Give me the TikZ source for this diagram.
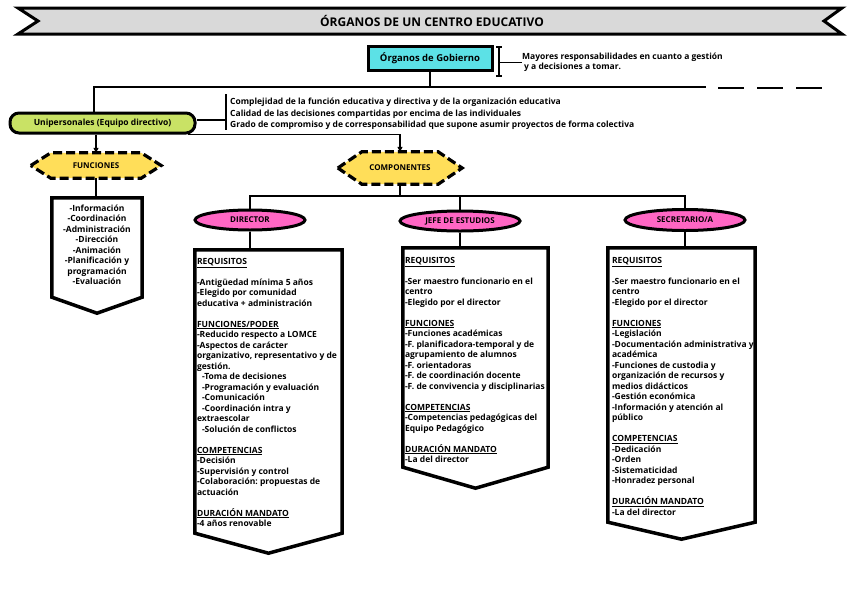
\documentclass[tikz,border=0pt]{standalone}
\usepackage{fontspec}
\setmainfont{Open Sans}
\usetikzlibrary{arrows.meta,calc,shapes.geometric,backgrounds}
\definecolor{bannergray}{HTML}{D9D9D9}
\definecolor{govcyan}{HTML}{5CE1E6}
\definecolor{unilime}{HTML}{C9E265}
\definecolor{hexyellow}{HTML}{FFDE59}
\definecolor{ellpink}{HTML}{FF66C4}
\frenchspacing
\begin{document}
\begin{tikzpicture}[x=1pt,y=-1pt,
  conn/.style={line width=1.4pt},
  arr/.style={line width=1.4pt,-{Triangle[length=5pt,width=5pt]}},
  txt/.style={font=\bfseries\fontsize{8.5}{10.5}\selectfont, inner sep=0pt, align=left},
  txtc/.style={font=\bfseries\fontsize{8.5}{10.5}\selectfont, inner sep=0pt, align=center},
  hexnode/.style={minimum width=#1, inner sep=0pt, font=\bfseries\fontsize{8}{9}\selectfont},
  hexshape/.style={fill=hexyellow, draw=black, line width=3.2pt, dash pattern=on 9pt off 4pt, line join=miter},
  ellnode/.style={ellipse, draw, line width=3pt, fill=ellpink, inner sep=0pt, font=\bfseries\fontsize{8}{9}\selectfont},
  boxnode/.style={inner sep=0pt},
  boxshape/.style={fill=white, draw=black, line width=3.5pt, line join=miter}
]
\useasboundingbox (0,0) rectangle (848,600);

% title banner
\draw[line width=3pt, fill=bannergray, line join=miter] (18,8) -- (842,8) -- (824,21) -- (842,34) -- (18,34) -- (38,21) -- cycle;
\node[font=\bfseries\fontsize{12}{14}\selectfont, inner sep=0pt] (title) at (432,21) {ÓRGANOS DE UN CENTRO EDUCATIVO};

% organos de gobierno
\node[draw, line width=3pt, fill=govcyan, minimum width=124pt, minimum height=24pt, inner sep=0pt,
      font=\bfseries\fontsize{9.5}{11}\selectfont] (gob) at (430,58) {Órganos de Gobierno};
\coordinate (gbT) at (499,47);
\coordinate (gbB) at (499,76);
\draw[conn] (gbT) -- (gbB);
\draw[conn] ($(gbT)+(-3,0)$) -- ($(gbT)+(3,0)$);
\draw[conn] ($(gbB)+(-3,0)$) -- ($(gbB)+(3,0)$);
\node[txt, anchor=west] (gobnote) at (522,62.5) {Mayores responsabilidades en cuanto a gestión\\\hspace*{2pt}y a decisiones a tomar.};
\draw[conn] (gbT |- gobnote.west) -- (gobnote.west);

% unipersonales
\node[draw, line width=3pt, fill=unilime, rounded corners=9pt, minimum width=185pt, minimum height=20pt, inner sep=0pt,
      font=\bfseries\fontsize{8.5}{10}\selectfont] (uni) at (102.5,123) {Unipersonales (Equipo directivo)};

% top horizontal line
\coordinate (hl) at (94,87);
\coordinate (hr) at (706,87);
\draw[conn] (gob.south) -- (gob.south |- hl);
\draw[conn] (hl |- uni.north) -- (hl) -- (hr);
\coordinate (d1) at (718,88);
\coordinate (d2) at (823,88);
\draw[line width=2pt, dash pattern=on 26pt off 13pt] (d1) -- (d2);

% bracket for unipersonales
\coordinate (ubT) at (226,94);
\coordinate (ubB) at (226,130);
\draw[conn] (ubT) -- (ubB);
\draw[conn] ($(uni.east)+(0,-3)$) coordinate (ue) -- (ue -| ubT);
\node[txt, anchor=north west, font=\bfseries\fontsize{8.5}{11.3}\selectfont] (unote) at (230,98)
  {Complejidad de la función educativa y directiva y de la organización educativa\\
   Calidad de las decisiones compartidas por encima de las individuales\\
   Grado de compromiso y de corresponsabilidad que supone asumir proyectos de forma colectiva};

% hexagons
\node[hexnode=130pt, minimum height=25pt] (fun) at (96,165.5) {FUNCIONES};
\node[hexnode=124pt, minimum height=32pt] (comp) at (400,168) {COMPONENTES};
\draw[arr] (uni.south -| fun.north) -- (fun.north);
\draw[arr] ($(uni.south east)+(-9,0)$) -- (comp.north |- uni.south) -- (comp.north);

% funciones box
\node[boxnode, minimum width=90pt, minimum height=99pt] (funbox) at (97,247.5) {};
\node[txtc, anchor=north] (funtxt) at ($(funbox.north)+(0,6.5)$)
  {-Información\\-Coordinación\\-Administración\\-Dirección\\-Animación\\-Planificación y\\programación\\-Evaluación};
\draw[conn] (fun.south) -- (fun.south |- funbox.north);

% ellipses
\node[ellnode, minimum width=110pt, minimum height=20pt] (dir) at (250,220) {DIRECTOR};
\node[ellnode, minimum width=120pt, minimum height=20pt] (jefe) at (460,221) {JEFE DE ESTUDIOS};
\node[ellnode, minimum width=120pt, minimum height=21pt] (sec) at (685,220) {SECRETARIO/A};

\coordinate (cl) at (251,196);
\draw[conn] (comp.south) -- (comp.south |- cl);
\draw[conn] (dir.north) -- (dir.north |- cl) -- (sec.north |- cl) -- (sec.north);
\draw[conn] (jefe.north |- cl) -- (jefe.north);

% column boxes
\node[boxnode, minimum width=147pt, minimum height=283pt] (dirbox) at (268.5,391.5) {};
\node[boxnode, minimum width=145pt, minimum height=219pt] (jefebox) at (475.5,357.5) {};
\node[boxnode, minimum width=147pt, minimum height=274pt] (secbox) at (681.5,385) {};
\draw[conn] (dir.south) -- (dir.south |- dirbox.north);
\draw[conn] (jefe.south) -- (jefe.south |- jefebox.north);
\draw[conn] (sec.south) -- (sec.south |- secbox.north);

\node[txt, anchor=north west] (dirtxt) at ($(dirbox.north west)+(2,8)$)
  {\underline{REQUISITOS}\\[10.5pt]
   -Antigüedad mínima 5 años\\
   -Elegido por comunidad\\
   educativa + administración\\[10.5pt]
   \underline{FUNCIONES/PODER}\\
   -Reducido respecto a LOMCE\\
   -Aspectos de carácter\\
   organizativo, representativo y de\\
   gestión.\\
   \hspace*{5pt}-Toma de decisiones\\
   \hspace*{5pt}-Programación y evaluación\\
   \hspace*{5pt}-Comunicación\\
   \hspace*{5pt}-Coordinación intra y\\
   extraescolar\\
   \hspace*{5pt}-Solución de conflictos\\[10.5pt]
   \underline{COMPETENCIAS}\\
   -Decisión\\
   -Supervisión y control\\
   -Colaboración: propuestas de\\
   actuación\\[10.5pt]
   \underline{DURACIÓN MANDATO}\\
   -4 años renovable};

\node[txt, anchor=north west] (jefetxt) at ($(jefebox.north west)+(2,9)$)
  {\underline{REQUISITOS}\\[10.5pt]
   -Ser maestro funcionario en el\\
   centro\\
   -Elegido por el director\\[10.5pt]
   \underline{FUNCIONES}\\
   -Funciones académicas\\
   -F. planificadora-temporal y de\\
   agrupamiento de alumnos\\
   -F. orientadoras\\
   -F. de coordinación docente\\
   -F. de convivencia y disciplinarias\\[10.5pt]
   \underline{COMPETENCIAS}\\
   -Competencias pedagógicas del\\
   Equipo Pedagógico\\[10.5pt]
   \underline{DURACIÓN MANDATO}\\
   -La del director};

\node[txt, anchor=north west] (sectxt) at ($(secbox.north west)+(4,9)$)
  {\underline{REQUISITOS}\\[10.5pt]
   -Ser maestro funcionario en el\\
   centro\\
   -Elegido por el director\\[10.5pt]
   \underline{FUNCIONES}\\
   -Legislación\\
   -Documentación administrativa y\\
   académica\\
   -Funciones de custodia y\\
   organización de recursos y\\
   medios didácticos\\
   -Gestión económica\\
   -Información y atención al\\
   público\\[10.5pt]
   \underline{COMPETENCIAS}\\
   -Dedicación\\
   -Orden\\
   -Sistematicidad\\
   -Honradez personal\\[10.5pt]
   \underline{DURACIÓN MANDATO}\\
   -La del director};

% background shapes
\begin{scope}[on background layer]
  \fill[white] (0,0) rectangle (848,600);
  \path[hexshape] (fun.west) -- ($(fun.north west)+(20,0)$) -- ($(fun.north east)+(-20,0)$) -- (fun.east)
      -- ($(fun.south east)+(-20,0)$) -- ($(fun.south west)+(20,0)$) -- cycle;
  \path[hexshape] (comp.west) -- ($(comp.north west)+(24,0)$) -- ($(comp.north east)+(-24,0)$) -- (comp.east)
      -- ($(comp.south east)+(-24,0)$) -- ($(comp.south west)+(24,0)$) -- cycle;
  \path[boxshape] (funbox.north west) -- (funbox.south west) -- ($(funbox.south)+(0,16)$) -- (funbox.south east) -- (funbox.north east) -- cycle;
  \path[boxshape] (dirbox.north west) -- (dirbox.south west) -- ($(dirbox.south)+(0,20)$) -- (dirbox.south east) -- (dirbox.north east) -- cycle;
  \path[boxshape] (jefebox.north west) -- (jefebox.south west) -- ($(jefebox.south)+(0,21)$) -- (jefebox.south east) -- (jefebox.north east) -- cycle;
  \path[boxshape] (secbox.north west) -- (secbox.south west) -- ($(secbox.south)+(0,17)$) -- (secbox.south east) -- (secbox.north east) -- cycle;
\end{scope}
\end{tikzpicture}
\end{document}
